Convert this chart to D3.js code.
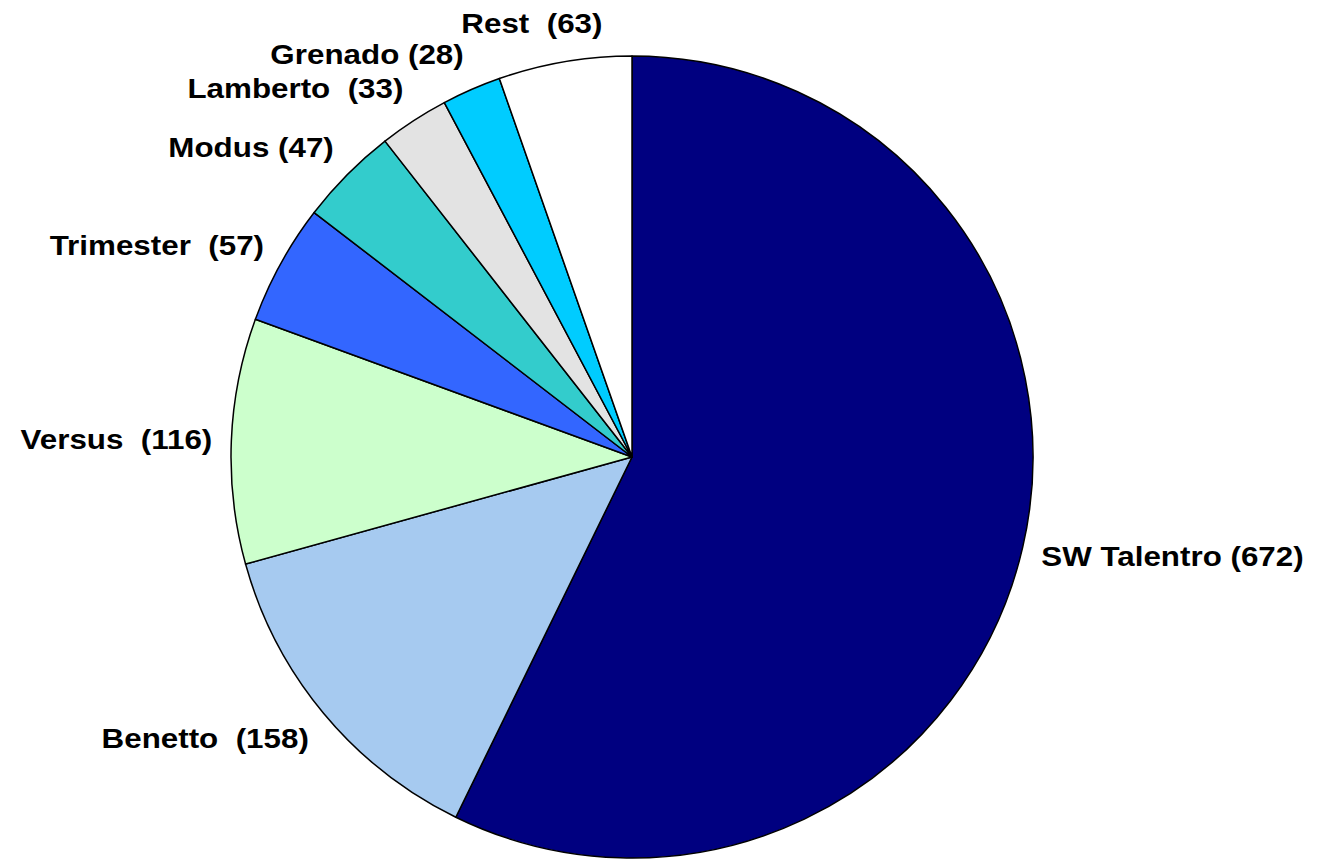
<!DOCTYPE html>
<html>
<head>
<meta charset="utf-8">
<script src="https://cdn.jsdelivr.net/npm/d3@7"></script>
<style>
  html, body { margin: 0; padding: 0; background: #fff; }
  svg { display: block; }
  text { font-family: "Liberation Sans", Arial, sans-serif; font-weight: bold; white-space: pre; }
</style>
</head>
<body>
<div id="chart"></div>
<script>
const names = ["SW Talentro", "Benetto", "Versus", "Trimester", "Modus", "Lamberto", "Grenado", "Rest"];
const values = [672, 158, 116, 57, 47, 33, 28, 63];
const gaps = [" ", "  ", "  ", "  ", " ", "  ", " ", "  "];
const colors = ["#000080", "#a6caf0", "#ccffcc", "#3366ff", "#33cccc", "#e3e3e3", "#00ccff", "#ffffff"];

const width = 1317;
const height = 859;
const cx = 632, cy = 457, radius = 401;
const labelR = 420;
const stretch = 1.12; // labels in the original are a bit wide

const svg = d3.select("#chart")
    .append("svg")
    .attr("width", width)
    .attr("height", height);

const slices = names.map((n, i) => ({ name: n, value: values[i], label: n + gaps[i] + "(" + values[i] + ")", color: colors[i] }));

const pie = d3.pie().sort(null).value(d => d.value);
const arc = d3.arc().innerRadius(0).outerRadius(radius);
const arcs = pie(slices);

const g = svg.append("g").attr("transform", `translate(${cx},${cy})`);

g.selectAll("path")
    .data(arcs)
    .join("path")
    .attr("d", arc)
    .attr("fill", d => d.data.color)
    .attr("stroke", "#000")
    .attr("stroke-width", 1.5)
    .attr("stroke-linejoin", "round");

// labels sit just outside the rim, box pushed away from the pie
const labels = g.selectAll("text")
    .data(arcs)
    .join("text")
    .attr("font-size", 28)
    .attr("text-anchor", "middle")
    .attr("fill", "#000")
    .text(d => d.data.label);

labels.each(function (d) {
    const a = (d.startAngle + d.endAngle) / 2;
    const s = Math.sin(a), c = Math.cos(a);
    const w = this.getComputedTextLength() * stretch;
    const h = 40;
    const px = s * labelR, py = -c * labelR;
    const k = Math.min(1, Math.abs(s) * 2.5) * Math.sign(s);
    d.lx = px + k * w / 2;
    d.ly = py - c * h / 2;
});

labels.attr("transform", d => `translate(${d.lx},${d.ly + 10}) scale(${stretch},1)`);
</script>
</body>
</html>
